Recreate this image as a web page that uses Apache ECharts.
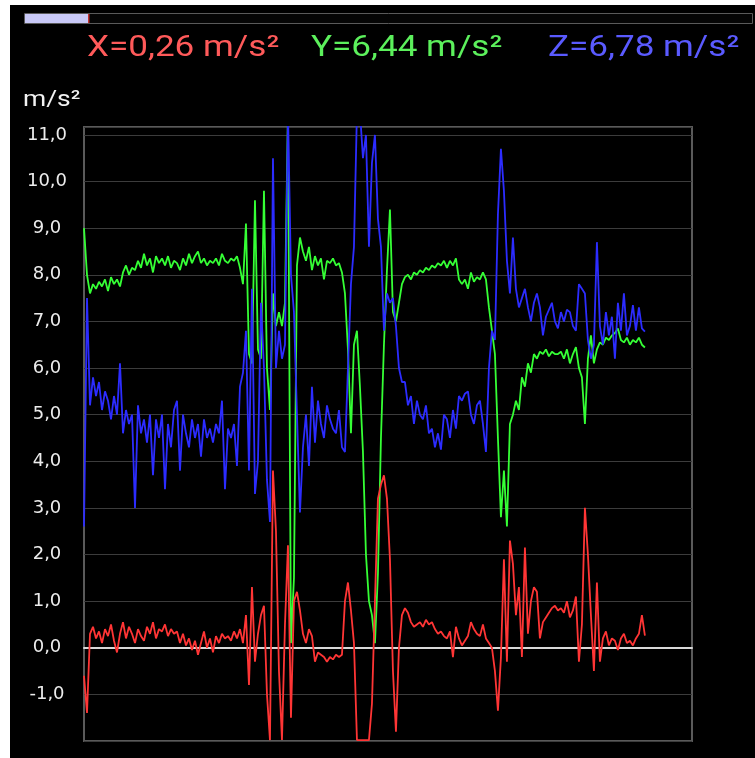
<!DOCTYPE html>
<html>
<head>
<meta charset="utf-8">
<script src="https://cdn.jsdelivr.net/npm/echarts@6/dist/echarts.min.js"></script>
<style>
  html, body { margin: 0; padding: 0; background: #fff; }
  #chart { width: 755px; height: 758px; }
</style>
</head>
<body>
<div id="chart"></div>
<script>
// Accelerometer trace, one sample every step along the time axis (m/s²)
const accX = [
  -0.6, -1.4, 0.3, 0.45, 0.2, 0.35, 0.1, 0.4, 0.25, 0.5,
  0.15, -0.1, 0.3, 0.55, 0.2, 0.45, 0.3, 0.1, 0.4, 0.25,
  0.15, 0.45, 0.3, 0.55, 0.2, 0.4, 0.35, 0.5, 0.25, 0.4,
  0.3, 0.35, 0.1, 0.3, 0.05, 0.2, -0.05, 0.15, -0.15, 0.1,
  0.35, 0.0, 0.2, -0.1, 0.25, 0.1, 0.3, 0.2, 0.25, 0.15,
  0.35, 0.2, 0.4, 0.1, 0.7, -0.8, 1.3, -0.3, 0.3, 0.7,
  0.9, -1.0, -1.98, 3.8, 2.5, -0.5, -1.98, 0.5, 2.2, -1.5,
  1.0, 1.2, 0.8, 0.3, 0.1, 0.4, 0.25, -0.3, -0.1, -0.15,
  -0.2, -0.3, -0.2, -0.25, -0.15, -0.2, -0.15, 1.0, 1.4, 0.8,
  0.1, -1.98, -1.98, -1.98, -1.98, -1.98, -1.2, 1.0, 3.2, 3.5,
  3.7, 3.2, 1.9, -0.5, -1.8, 0.0, 0.7, 0.85, 0.75, 0.55,
  0.45, 0.5, 0.55, 0.45, 0.6, 0.5, 0.55, 0.4, 0.3, 0.35,
  0.25, 0.2, 0.35, -0.2, 0.45, 0.2, 0.05, 0.15, 0.25, 0.55,
  0.4, 0.3, 0.25, 0.5, 0.2, 0.1, 0.0, -0.5, -1.35, -0.2,
  1.9, -0.3, 2.3, 1.8, 0.7, 1.3, -0.2, 2.15, 0.3, 1.0,
  1.3, 1.2, 0.2, 0.55, 0.65, 0.75, 0.85, 0.9, 0.8, 0.85,
  0.75, 1.0, 0.65, 0.8, 1.1, -0.3, 0.5, 3.0, 2.0, 0.7,
  -0.5, 1.4, -0.3, 0.2, 0.35, 0.05, 0.2, 0.15, -0.05, 0.2,
  0.3, 0.1, 0.15, 0.05, 0.2, 0.3, 0.7, 0.26
];
const accY = [
  9.0, 8.0, 7.6, 7.8, 7.7, 7.85, 7.75, 7.9, 7.65, 7.95,
  7.8, 7.9, 7.75, 8.05, 8.2, 8.0, 8.15, 8.1, 8.3, 8.15,
  8.45, 8.2, 8.35, 8.05, 8.4, 8.25, 8.35, 8.2, 8.4, 8.15,
  8.3, 8.25, 8.1, 8.35, 8.2, 8.45, 8.25, 8.4, 8.5, 8.25,
  8.35, 8.2, 8.3, 8.25, 8.35, 8.2, 8.45, 8.3, 8.25, 8.35,
  8.3, 8.4, 8.15, 7.8, 9.1, 6.3, 6.1, 9.6, 6.4, 6.2,
  9.8, 6.0, 5.1, 7.6, 6.9, 7.2, 6.9, 7.4, 11.5, 0.1,
  1.5, 8.2, 8.8, 8.5, 8.3, 8.6, 8.1, 8.4, 8.2, 8.35,
  7.9, 8.3, 8.25, 8.35, 8.2, 8.25, 8.05, 7.6, 6.4, 4.6,
  6.5, 6.8, 5.6, 4.2, 2.0, 1.0, 0.7, 0.1, 1.6, 4.5,
  6.5, 8.1, 9.4, 7.2, 7.0, 7.4, 7.8, 7.95, 8.0, 7.9,
  8.05, 8.0, 8.1, 8.05, 8.15, 8.1, 8.2, 8.15, 8.25, 8.2,
  8.3, 8.15, 8.3, 8.2, 8.35, 7.9, 7.8, 7.9, 7.7, 8.05,
  7.85, 7.95, 7.9, 8.05, 7.9, 7.3, 6.8, 6.3, 4.5, 2.8,
  3.8, 2.6, 4.8, 5.0, 5.3, 5.1, 5.8, 5.6, 6.1, 5.9,
  6.3, 6.2, 6.35, 6.3, 6.4, 6.25, 6.35, 6.3, 6.3, 6.35,
  6.2, 6.4, 6.1, 6.3, 6.45, 6.0, 5.8, 4.8, 6.2, 6.7,
  6.1, 6.4, 6.55, 6.5, 6.65, 6.6, 6.7, 6.75, 6.85, 6.6,
  6.55, 6.65, 6.5, 6.6, 6.55, 6.65, 6.5, 6.44
];
const accZ = [
  2.6, 7.5, 5.2, 5.8, 5.4, 5.7, 5.1, 5.5, 5.3, 4.9,
  5.4, 5.0, 6.1, 4.6, 5.1, 4.8, 5.0, 3.0, 5.2, 4.6,
  4.9, 4.4, 5.0, 3.7, 4.9, 4.5, 5.0, 3.4, 4.8, 4.3,
  5.1, 5.3, 3.8, 5.0, 4.6, 4.3, 4.9, 4.5, 4.8, 4.1,
  4.9, 4.5, 4.7, 4.4, 4.8, 4.6, 5.3, 3.4, 4.7, 4.5,
  4.8, 3.9, 5.6, 5.9, 6.8, 3.8, 7.7, 3.3, 4.0, 7.4,
  6.0, 3.6, 2.7, 10.5, 6.0, 6.8, 6.2, 6.5, 11.5, 8.0,
  7.2, 5.0, 2.9, 4.3, 5.0, 3.9, 5.6, 4.4, 5.3, 4.8,
  4.5, 5.2, 4.9, 4.7, 4.6, 5.1, 4.3, 4.2, 6.0, 7.8,
  8.6, 11.5, 11.5, 10.5, 11.0, 8.6, 10.4, 11.0, 9.2, 8.6,
  6.8, 7.6, 7.4, 7.5, 6.9, 6.0, 5.7, 5.7, 5.2, 5.4,
  4.8, 5.3, 5.0, 4.9, 5.2, 4.6, 4.7, 4.3, 4.6, 4.25,
  5.0, 4.9, 4.5, 5.1, 4.7, 5.4, 5.3, 5.45, 5.5, 5.0,
  4.8, 5.2, 5.3, 4.8, 4.2, 6.0, 6.8, 6.6, 9.3, 10.7,
  9.8, 8.3, 7.6, 8.8, 7.7, 7.3, 7.5, 7.7, 7.3, 7.0,
  7.4, 7.6, 7.3, 6.7, 7.1, 7.25, 7.4, 7.0, 6.85, 7.2,
  7.0, 7.25, 7.2, 6.9, 6.8, 7.8, 7.7, 7.6, 6.6, 6.2,
  6.5, 8.7, 6.9, 6.5, 7.2, 6.7, 7.1, 6.2, 7.4, 6.8,
  7.6, 6.7, 6.9, 7.35, 6.8, 7.3, 6.85, 6.78
];

// Axis set-up
const yMin = -2;
const yMax = 11.17;
const yStep = 1;
const sampleSpan = 202.7;   // visible samples across the plot
const unitLabel = 'm/s²';

const colX = '#ff3535', colY = '#35ff35', colZ = '#2c2cff';
const readoutColX = '#ff5a5a', readoutColY = '#5cf05c', readoutColZ = '#5a5aff';

function fmt(v) { return v.toFixed(2).replace('.', ','); }
function pairs(arr) { return arr.map((v, i) => [i, v]); }

const chart = echarts.init(document.getElementById('chart'), null, { renderer: 'canvas' });

const lastX = accX[accX.length - 1], lastY = accY[accY.length - 1], lastZ = accZ[accZ.length - 1];

chart.setOption({
  backgroundColor: '#000',
  animation: false,
  graphic: [
    // white frame strips on the left and top
    { type: 'rect', shape: { x: 0, y: 0, width: 10, height: 758 }, style: { fill: '#fff' }, z: 100 },
    { type: 'rect', shape: { x: 0, y: 0, width: 755, height: 5 }, style: { fill: '#fff' }, z: 100 },
    // progress bar
    { type: 'rect', shape: { x: 24.5, y: 13.5, width: 728, height: 10 }, style: { fill: '#050505', stroke: '#5a5a5a', lineWidth: 1 }, z: 100 },
    { type: 'rect', shape: { x: 25, y: 14, width: 64, height: 9 }, style: { fill: '#c8c8f6' }, z: 101 },
    { type: 'rect', shape: { x: 88, y: 14, width: 1.5, height: 9 }, style: { fill: '#c03030' }, z: 102 },
    // live readouts
    { type: 'text', x: 87, y: 49, scaleX: 1.21, z: 100,
      style: { x: 0, y: 0, text: 'X=' + fmt(lastX) + ' ' + unitLabel, fill: readoutColX, font: '29px Roboto', verticalAlign: 'middle' } },
    { type: 'text', x: 311, y: 49, scaleX: 1.21, z: 100,
      style: { x: 0, y: 0, text: 'Y=' + fmt(lastY) + ' ' + unitLabel, fill: readoutColY, font: '29px Roboto', verticalAlign: 'middle' } },
    { type: 'text', x: 548, y: 49, scaleX: 1.21, z: 100,
      style: { x: 0, y: 0, text: 'Z=' + fmt(lastZ) + ' ' + unitLabel, fill: readoutColZ, font: '29px Roboto', verticalAlign: 'middle' } },
    // unit caption above the value axis
    { type: 'text', x: 23, y: 100, scaleX: 1.2, z: 100,
      style: { x: 0, y: 0, text: unitLabel, fill: '#f2f2f2', font: '22px Roboto', verticalAlign: 'middle' } }
  ],
  grid: {
    left: 84, top: 127, width: 608, height: 614,
    show: true, borderColor: '#5a5a5a', borderWidth: 2, backgroundColor: 'transparent'
  },
  xAxis: {
    type: 'value', min: 0, max: sampleSpan,
    axisLine: { show: true, onZero: true, lineStyle: { color: '#d8d8d8', width: 2 } },
    axisTick: { show: false }, axisLabel: { show: false }, splitLine: { show: false }
  },
  yAxis: {
    type: 'value', min: yMin, max: yMax, interval: yStep,
    axisLine: { show: false }, axisTick: { show: false },
    splitLine: { show: true, lineStyle: { color: '#3c3c3c', width: 1 } },
    axisLabel: {
      color: '#ececec', fontFamily: 'DejaVu Sans', fontSize: 18,
      align: 'center', margin: 37,
      formatter: v => (Number.isInteger(v) && v > yMin) ? v.toFixed(1).replace('.', ',') : ''
    }
  },
  series: [
    { name: 'Y', type: 'line', data: pairs(accY), showSymbol: false, lineStyle: { color: colY, width: 1.8 }, z: 2 },
    { name: 'Z', type: 'line', data: pairs(accZ), showSymbol: false, lineStyle: { color: colZ, width: 1.8 }, z: 3 },
    { name: 'X', type: 'line', data: pairs(accX), showSymbol: false, lineStyle: { color: colX, width: 1.8 }, z: 4 }
  ]
});
</script>
</body>
</html>
